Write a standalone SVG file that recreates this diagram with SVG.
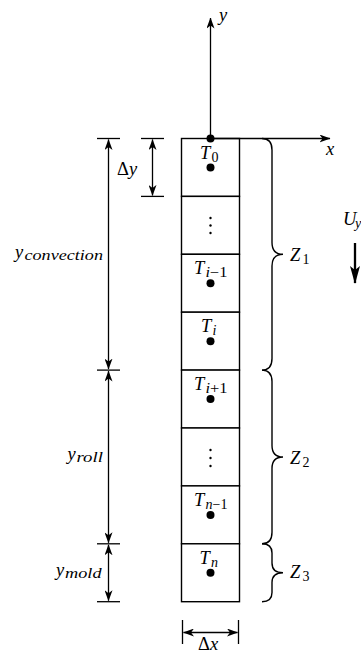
<svg xmlns="http://www.w3.org/2000/svg" width="361" height="654" viewBox="0 0 361 654">
<style>
.ln{stroke:#000;stroke-width:1.3;fill:none}
.cell{stroke:#000;stroke-width:1.4;fill:#fff}
.brace{stroke:#000;stroke-width:1.4;fill:none}
.t{font-family:"Liberation Serif","DejaVu Serif",serif;font-style:italic;font-size:18.5px;fill:#000}
.s{font-family:"Liberation Serif","DejaVu Serif",serif;font-style:italic;font-size:14px;fill:#000}
.up{font-style:normal}
</style>
<defs>
<marker id="ah" markerUnits="userSpaceOnUse" viewBox="0 0 11 8" refX="10.5" refY="4" markerWidth="11" markerHeight="8" orient="auto-start-reverse">
<path d="M0,0 L11,4 L0,8 L3,4 z" fill="#000"/>
</marker>
<marker id="ahb" markerUnits="userSpaceOnUse" viewBox="0 0 18 10" refX="17" refY="5" markerWidth="18" markerHeight="10" orient="auto">
<path d="M0,0 L18,5 L0,10 L4,5 z" fill="#000"/>
</marker>
</defs>

<g id="cells">
<rect class="cell" x="181.5" y="138.5" width="58" height="57.9"/>
<rect class="cell" x="181.5" y="196.4" width="58" height="57.9"/>
<rect class="cell" x="181.5" y="254.3" width="58" height="57.9"/>
<rect class="cell" x="181.5" y="312.2" width="58" height="57.9"/>
<rect class="cell" x="181.5" y="370.1" width="58" height="57.9"/>
<rect class="cell" x="181.5" y="428" width="58" height="57.9"/>
<rect class="cell" x="181.5" y="485.9" width="58" height="57.9"/>
<rect class="cell" x="181.5" y="543.8" width="58" height="57.9"/>
</g>

<g id="connectors">
<line class="ln" x1="210.5" y1="138.5" x2="210.5" y2="18" marker-end="url(#ah)"/>
<line class="ln" x1="210.5" y1="138.5" x2="330" y2="138.5" marker-end="url(#ah)"/>
<line class="ln" x1="97" y1="138.5" x2="120" y2="138.5"/>
<line class="ln" x1="97" y1="370.1" x2="120" y2="370.1"/>
<line class="ln" x1="97" y1="543.8" x2="120" y2="543.8"/>
<line class="ln" x1="97" y1="601.7" x2="120" y2="601.7"/>
<line class="ln" x1="141" y1="138.5" x2="164" y2="138.5"/>
<line class="ln" x1="141" y1="196.4" x2="164" y2="196.4"/>
<line class="ln" x1="182.5" y1="620" x2="182.5" y2="644"/>
<line class="ln" x1="238.5" y1="620" x2="238.5" y2="644"/>
<line class="ln" x1="108.5" y1="139.5" x2="108.5" y2="369.1" marker-start="url(#ah)" marker-end="url(#ah)"/>
<line class="ln" x1="108.5" y1="371.1" x2="108.5" y2="542.8" marker-start="url(#ah)" marker-end="url(#ah)"/>
<line class="ln" x1="108.5" y1="544.8" x2="108.5" y2="600.7" marker-start="url(#ah)" marker-end="url(#ah)"/>
<line class="ln" x1="152.5" y1="139.5" x2="152.5" y2="195.4" marker-start="url(#ah)" marker-end="url(#ah)"/>
<line class="ln" x1="183.5" y1="632.5" x2="237.5" y2="632.5" marker-start="url(#ah)" marker-end="url(#ah)"/>
<line x1="355" y1="243" x2="355" y2="283" stroke="#000" stroke-width="2.3" marker-end="url(#ahb)"/>
</g>

<g id="braces">
<path class="brace" d="M262,138.5 Q272,138.5 272,150 L272,242.5 Q272,254.3 283,254.3 Q272,254.3 272,266 L272,358.6 Q272,370.1 262,370.1"/>
<path class="brace" d="M262,370.1 Q272,370.1 272,381.6 L272,445.5 Q272,457 283,457 Q272,457 272,468.5 L272,532.3 Q272,543.8 262,543.8"/>
<path class="brace" d="M262,543.8 Q272,543.8 272,553 L272,563 Q272,572.8 283,572.8 Q272,572.8 272,582.6 L272,592.5 Q272,601.7 262,601.7"/>
</g>

<g id="points">
<circle cx="210.5" cy="138.5" r="4"/>
<circle cx="210.5" cy="167.5" r="4"/>
<circle cx="210.5" cy="283.3" r="4"/>
<circle cx="210.5" cy="341.2" r="4"/>
<circle cx="210.5" cy="399.1" r="4"/>
<circle cx="210.5" cy="514.9" r="4"/>
<circle cx="210.5" cy="572.8" r="4"/>
<circle cx="210.5" cy="218" r="1.2"/>
<circle cx="210.5" cy="225.5" r="1.2"/>
<circle cx="210.5" cy="233" r="1.2"/>
<circle cx="210.5" cy="450" r="1.2"/>
<circle cx="210.5" cy="458" r="1.2"/>
<circle cx="210.5" cy="466" r="1.2"/>
</g>

<g id="cell-labels">
<text class="t" x="200" y="158.5">T</text><text class="s up" x="211.5" y="161.5">0</text>
<text class="t" x="194" y="274.3">T</text><text class="s" x="205.5" y="277.3" textLength="22" lengthAdjust="spacingAndGlyphs">i<tspan class="up">−1</tspan></text>
<text class="t" x="201" y="332.2">T</text><text class="s" x="212.5" y="335.2">i</text>
<text class="t" x="194" y="390.1">T</text><text class="s" x="205.5" y="393.1" textLength="22" lengthAdjust="spacingAndGlyphs">i<tspan class="up">+1</tspan></text>
<text class="t" x="194" y="505.9">T</text><text class="s" x="205.5" y="508.9" textLength="22" lengthAdjust="spacingAndGlyphs">n<tspan class="up">−1</tspan></text>
<text class="t" x="199.5" y="563.8">T</text><text class="s" x="211" y="566.8">n</text>
</g>

<g id="labels">
<text class="t" x="219" y="21">y</text>
<text class="t" x="326" y="155">x</text>
<text class="t" x="117" y="175"><tspan class="up">Δ</tspan>y</text>
<text class="t" x="198" y="650"><tspan class="up">Δ</tspan>x</text>
<text class="t" x="15" y="258">y</text><text class="s" x="24.5" y="260" textLength="78.5" lengthAdjust="spacingAndGlyphs">convection</text>
<text class="t" x="67.5" y="460">y</text><text class="s" x="76.5" y="462" textLength="26.5" lengthAdjust="spacingAndGlyphs">roll</text>
<text class="t" x="56" y="576">y</text><text class="s" x="65" y="578" textLength="36.5" lengthAdjust="spacingAndGlyphs">mold</text>
<text class="t" x="290" y="261">Z</text><text class="s up" x="302.5" y="264">1</text>
<text class="t" x="290" y="464">Z</text><text class="s up" x="302.5" y="467">2</text>
<text class="t" x="290" y="578">Z</text><text class="s up" x="302.5" y="581">3</text>
<text class="t" x="343" y="225">U</text><text class="s" x="355" y="228">y</text>
</g>
</svg>
